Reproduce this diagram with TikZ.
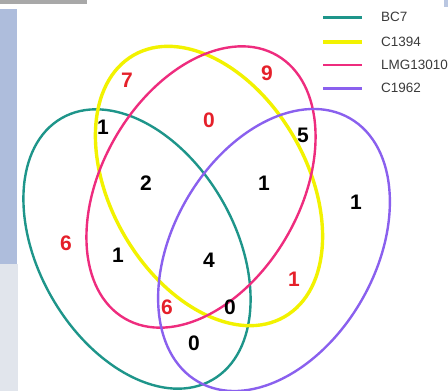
\documentclass[tikz,border=0pt]{standalone}
\usepackage{fontspec}
\setmainfont{Liberation Sans}
\definecolor{cteal}{HTML}{1E958A}
\definecolor{cyell}{HTML}{F2F200}
\definecolor{cpink}{HTML}{EE2C7E}
\definecolor{cpurp}{HTML}{8A60EE}
\definecolor{cred}{HTML}{E5202A}
\definecolor{cblue}{HTML}{AEBDDC}
\definecolor{clgray}{HTML}{E1E5EC}
\definecolor{cbar}{HTML}{A8A8A8}
\definecolor{ctext}{HTML}{3A3A3A}
\begin{document}
\begin{tikzpicture}[x=1pt,y=-1pt,
  num/.style={font=\bfseries\fontsize{21}{21}\selectfont, inner sep=0pt},
  rnum/.style={num, text=cred},
  bnum/.style={num, text=black},
  legtext/.style={font=\fontsize{13.5}{14}\selectfont, text=ctext, anchor=west, inner sep=0pt},
  ring/.style={line width=2.4pt}]
\useasboundingbox (0,0) rectangle (448,391);
% background artifacts
\fill[cbar] (0,0) rectangle (87,3.5);
\fill[cblue] (0,9) rectangle (17,264);
\fill[clgray] (0,264) rectangle (18,391);
\fill[cblue!85] (443.5,0) rectangle (448,7);
% ellipses
\draw[ring, cteal, shift={(137,249)}, rotate=-60] (0,0) ellipse [x radius=151pt, y radius=98pt];
\draw[ring, cyell, line width=3.4pt, shift={(209,186)}, rotate=-60] (0,0) ellipse [x radius=151pt, y radius=98pt];
\draw[ring, cpink, shift={(201,187)}, rotate=60] (0,0) ellipse [x radius=152pt, y radius=99pt];
\draw[ring, cpurp, shift={(274,250)}, rotate=60] (0,0) ellipse [x radius=152pt, y radius=101pt];
% numbers
\node[rnum] (n7) at (127,80) {7};
\node[rnum] (n9) at (267,73) {9};
\node[bnum] (na) at (103,127) {1};
\node[rnum] (nb) at (209,120) {0};
\node[bnum] (nc) at (303,135) {5};
\node[bnum] (nd) at (146,183) {2};
\node[bnum] (ne) at (264,183) {1};
\node[bnum] (nf) at (356,202) {1};
\node[rnum] (ng) at (66,243) {6};
\node[bnum] (nh) at (118,255) {1};
\node[bnum] (ni) at (209,260) {4};
\node[rnum] (nj) at (294,279) {1};
\node[rnum] (nk) at (167,307) {6};
\node[bnum] (nl) at (230,307) {0};
\node[bnum] (nm) at (194,343) {0};
% legend
\coordinate (l1a) at (323,17); \coordinate (l1b) at (362,17);
\coordinate (l2a) at (323,42); \coordinate (l2b) at (362,42);
\coordinate (l3a) at (323,65); \coordinate (l3b) at (362,65);
\coordinate (l4a) at (323,88); \coordinate (l4b) at (362,88);
\draw[cteal, line width=3pt] (l1a) -- (l1b);
\draw[cyell, line width=4pt] (l2a) -- (l2b);
\draw[cpink, line width=2.4pt] (l3a) -- (l3b);
\draw[cpurp, line width=3pt] (l4a) -- (l4b);
\node[legtext] (t1) at (381,17) {BC7};
\node[legtext] (t2) at (381,42) {C1394};
\node[legtext] (t3) at (381,65) {LMG13010};
\node[legtext] (t4) at (381,88) {C1962};
\end{tikzpicture}
\end{document}
